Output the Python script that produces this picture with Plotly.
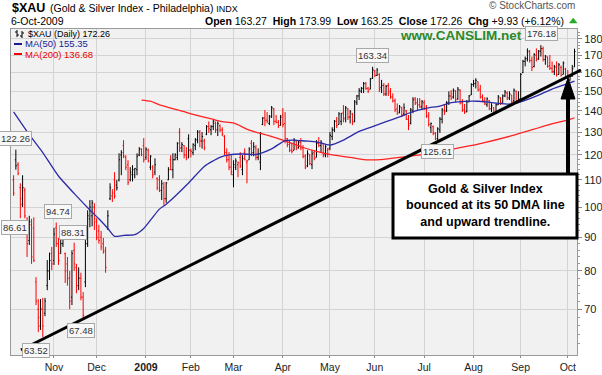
import math
import pandas as pd
import plotly.graph_objects as go

# ---------------- data ----------------
HOLIDAYS = ["2008-11-27", "2008-12-25", "2009-01-01", "2009-01-19", "2009-02-16",
            "2009-04-10", "2009-05-25", "2009-07-03", "2009-09-07"]
dates = [d.strftime("%Y-%m-%d") for d in pd.bdate_range("2008-10-08", "2009-10-06")
         if d.strftime("%Y-%m-%d") not in HOLIDAYS]

opens = [110,118,116,107,101,106,95,89,94,93,
         77,70,66,70,69,76,80,85,83,93,
         88,85,88,85,82,78,73,86,81,76,
         78,73,77,88,96,97,100,95,92,90,
         88,86,93,103,104,110,108,110,120,124,
         119,116,110,112,112,114,120,122.5,124,119,
         122,115,115,113,110.5,110,106,107,103,110,
         118,114,118,119,130,123,124,120,127,122,
         121,124,126.5,130,126,126,129,132.5,131,132.5,
         134,131,133,131,128,121,118,115,112,115,
         116,119,114,121,117,118,125,121,123,119,
         117,133.5,136.5,135.5,134,137,141,135,134.5,133,
         138,134,127,124.5,122,122,126,123,125.5,123,
         119.5,115.5,120,116,121,119,125,124,125,120,
         122,123,128,131,135,133.5,135,139,136.5,141,
         137,138.5,135,144,147.5,150,151.5,154,151.5,151,
         157,161,158.5,159,152,153,148.5,153,150,147,
         145,141,139,141.5,138.5,140,136,134,140,146,
         144,143,142,144,141,137.5,132,132.5,129.5,127,
         131,136,140,140,144,147.5,147,150,146,150.5,
         144,140.5,139.5,144.5,148,153.5,154,155,151,147,
         145,143,145,141,141.5,139,143,146.5,144,147.5,
         149,146.5,148,145,150,145,145,160,166.5,168,
         172,167,163.5,170,168,172.5,174,167.5,169,164,
         162.5,160.5,163,159,163,159,162,157.5,156,158,
         163.27]
highs = [111.8,122.26,117.0,108.7,111.8,107.0,96.5,97.0,96.0,96.5,
         78.3,72.5,72.5,72.8,72.8,83.1,85.3,87.0,93.0,94.74,
         89.8,89.8,90.7,85.3,84.0,80.0,86.0,88.31,82.0,81.0,
         79.5,74.3,89.8,98.9,102.5,102.5,101.4,96.2,94.0,92.0,
         89.8,87.0,98.9,108.7,106.5,113.0,110.0,120.7,122.0,126.4,
         119.9,117.8,115.0,115.8,114.6,120.7,123.3,122.8,127.3,123.3,
         122.7,119.9,115.8,118.6,111.0,111.8,109.9,109.2,109.2,115.0,
         119.9,120.7,120.7,125.5,131.8,125.5,124.2,123.3,129.0,122.7,
         125.0,127.3,130.9,130.9,130.0,127.0,133.2,134.9,133.2,135.6,
         134.9,134.9,133.5,132.2,128.6,122.8,121.2,119.9,117.8,118.6,
         117.3,121.2,119.9,122.8,118.0,123.3,126.4,125.5,124.2,122.8,
         130.0,137.0,140.4,139.4,138.0,142.4,141.4,138.0,135.6,138.0,
         141.4,139.4,127.3,126.4,125.0,127.3,126.4,126.4,127.3,124.2,
         120.3,122.0,120.3,122.0,122.0,126.4,127.7,126.4,125.0,124.2,
         123.0,130.0,132.2,135.6,137.0,139.4,138.9,142.9,142.4,141.4,
         140.4,139.0,145.4,148.0,151.6,152.2,154.9,154.9,152.2,157.1,
         163.34,161.5,162.6,159.7,156.0,154.3,153.3,154.3,151.6,148.9,
         146.2,143.7,142.9,142.0,143.7,140.5,138.0,141.4,146.9,146.9,
         146.4,146.4,145.4,145.4,142.9,139.4,134.4,133.0,130.0,132.2,
         137.0,141.4,142.9,144.9,149.9,150.6,151.4,150.5,152.2,151.0,
         145.9,143.4,145.4,148.0,154.2,156.0,156.9,155.1,153.3,148.3,
         146.8,146.8,145.4,143.8,141.9,143.8,148.0,146.8,148.3,150.6,
         149.9,149.9,148.0,151.4,150.3,149.9,159.8,167.3,169.3,174.2,
         173.2,169.3,171.3,174.2,173.2,176.18,175.3,170.2,169.3,170.2,
         166.4,164.4,166.4,165.5,164.0,166.4,162.7,161.5,158.7,164.4,
         173.99]
lows = [104.0,114.0,111.8,96.2,100.0,96.2,84.0,87.6,82.0,82.5,
        71.0,64.6,65.1,63.52,68.3,74.8,77.5,80.2,81.7,87.0,
        81.7,85.0,87.0,76.7,76.0,70.0,71.0,80.0,74.0,74.8,
        72.2,67.48,75.6,87.0,93.2,93.5,92.3,89.1,88.0,86.0,
        85.0,79.5,92.3,102.5,101.8,103.0,106.0,109.4,111.8,118.7,
        113.8,108.0,109.4,109.4,110.6,111.8,119.5,119.5,116.9,118.0,
        116.9,113.8,110.6,111.8,106.1,105.4,102.5,100.7,101.5,109.9,
        113.8,110.6,117.8,117.8,121.2,121.2,118.6,117.8,118.6,119.0,
        119.9,122.0,125.0,123.3,122.7,122.0,128.6,129.6,128.6,130.9,
        129.6,128.2,130.0,128.2,120.0,116.9,113.8,111.8,107.2,113.8,
        111.0,114.6,111.8,117.8,108.7,118.0,119.5,119.5,117.8,117.8,
        113.8,133.2,132.7,134.0,133.2,136.6,133.2,134.0,131.8,133.0,
        132.2,125.0,123.3,121.2,120.7,122.0,122.0,122.7,122.0,118.6,
        114.2,115.0,115.8,114.2,117.8,119.0,123.3,121.2,119.0,119.0,
        119.0,122.0,126.4,130.0,131.8,133.5,133.2,134.5,134.5,135.6,
        134.0,133.2,134.5,142.9,145.4,149.0,149.0,150.6,149.0,151.0,
        156.5,157.6,158.2,149.5,149.0,147.5,147.5,147.5,146.0,144.2,
        139.4,138.0,138.9,137.0,137.5,135.6,130.9,133.5,138.9,142.9,
        140.4,141.4,140.4,140.4,136.6,132.5,129.6,128.6,126.4,125.61,
        129.6,134.0,138.0,139.5,142.9,145.4,146.1,144.2,145.5,143.2,
        139.5,138.5,139.4,144.3,148.0,152.3,151.4,149.9,146.1,144.3,
        142.9,142.0,140.4,139.4,138.0,138.5,142.9,142.9,144.0,146.9,
        145.4,145.4,143.8,144.3,144.3,144.3,144.9,159.8,163.6,166.4,
        165.7,160.9,163.0,166.4,167.3,169.3,166.4,164.5,162.8,161.5,
        159.8,158.7,157.8,159.0,157.8,159.0,156.9,155.2,155.5,157.8,
        163.25]
closes = [105.0,115.5,112.5,103.0,107.0,97.0,88.0,95.0,84.0,83.0,
          72.0,68.0,70.0,66.0,72.0,80.0,83.0,82.0,91.0,88.0,
          83.0,88.0,90.0,80.0,78.0,72.0,85.0,82.0,76.0,78.0,
          73.0,68.5,88.0,97.0,100.0,101.5,96.0,90.0,89.0,87.0,
          85.5,81.0,97.0,107.0,105.0,104.0,107.0,118.0,121.0,119.5,
          115.0,109.0,113.0,114.0,114.5,119.5,122.5,120.0,118.0,122.5,
          117.5,119.5,112.0,116.0,107.0,106.0,108.5,103.0,108.8,114.0,
          113.9,118.0,120.0,125.0,123.0,124.5,120.0,119.0,122.0,121.5,
          124.5,126.5,130.0,126.0,128.0,123.0,132.5,131.5,132.5,135.0,
          131.0,134.0,131.0,129.0,121.0,118.0,115.0,113.0,116.0,117.5,
          116.8,115.5,118.5,118.0,117.5,122.5,121.0,123.5,119.0,120.5,
          129.5,136.5,135.5,135.0,137.5,141.5,135.0,134.5,133.0,137.0,
          133.5,127.0,124.5,122.0,121.5,126.5,123.0,125.5,123.0,119.5,
          115.0,120.5,116.5,120.5,118.5,125.0,124.0,125.5,120.0,123.5,
          122.5,128.5,131.0,135.0,133.0,138.5,138.8,136.0,141.5,137.0,
          139.5,134.5,144.5,147.5,150.5,151.5,154.0,151.5,150.0,156.5,
          161.5,158.5,161.5,151.0,153.0,148.5,152.5,149.0,147.0,145.0,
          140.5,139.5,142.0,138.0,141.5,136.0,133.0,140.5,145.5,144.0,
          143.0,142.0,144.5,141.0,137.5,133.5,134.0,129.5,127.0,131.5,
          136.0,140.5,139.5,144.0,147.5,146.5,150.5,145.5,151.0,144.0,
          140.5,139.5,144.5,147.5,153.5,154.0,155.8,150.5,147.0,145.0,
          143.5,146.0,141.0,142.5,138.5,143.0,147.0,144.0,147.5,149.5,
          146.5,148.5,144.5,150.5,145.0,146.0,159.0,166.5,168.0,172.5,
          167.0,163.0,170.5,167.5,172.5,174.0,167.5,169.5,163.5,162.5,
          160.5,163.5,159.0,164.5,158.5,165.5,157.5,156.0,158.0,162.33,
          172.26]

# moving averages (bar index -> value)
ma50_idx = [0, 7, 13, 20, 28, 34, 38, 42, 45, 49, 54, 58, 62, 65, 68, 78, 85, 92, 96, 102,
            108, 115, 121, 125, 130, 135, 141, 147, 154, 160, 166, 172, 178, 184, 190, 194,
            198, 207, 214, 222, 226, 234, 240, 246, 250]
ma50_val = [139.5, 128.8, 121.0, 111.5, 104.0, 99.0, 96.0, 92.8, 90.3, 90.6, 90.8, 92.8, 96.5,
            99.3, 101.0, 108.8, 115.3, 119.0, 120.0, 120.4, 120.2, 122.6, 126.2, 126.4, 126.0,
            125.6, 124.2, 126.4, 130.3, 132.5, 134.8, 137.1, 139.6, 141.3, 142.4, 143.8, 144.5,
            144.8, 144.0, 143.4, 144.5, 147.9, 151.1, 153.6, 155.35]
ma200_idx = [57, 61, 65, 76, 78, 90, 93, 98, 105, 113, 120, 128, 135, 142, 150, 157, 165, 172,
             180, 187, 193, 208, 223, 238, 248, 250]
ma200_val = [145.4, 144.8, 143.0, 139.6, 138.9, 135.6, 134.8, 134.2, 130.9, 128.6, 126.4, 123.5,
             121.5, 120.0, 119.0, 118.0, 118.2, 119.0, 119.9, 120.8, 122.0, 124.9, 128.6, 133.2,
             135.9, 136.68]

month_ticks = ["2008-11-03", "2008-12-01", "2009-01-02", "2009-02-02", "2009-03-02", "2009-04-01",
               "2009-05-01", "2009-06-01", "2009-07-01", "2009-08-03", "2009-09-01", "2009-10-01"]
month_text = ["Nov", "Dec", "<b>2009</b>", "Feb", "Mar", "Apr", "May", "Jun", "Jul", "Aug", "Sep", "Oct"]
price_ticks = [70, 80, 90, 100, 110, 120, 130, 140, 150, 160, 170, 180]

# labelled extremes: (bar index, value, x shift, y shift)
marks = [(1, 122.26, 0, 11), (19, 94.74, 2, 11), (27, 88.31, -1, 10), (31, 67.48, -2, -11),
         (13, 63.52, -7, -14), (160, 163.34, 0, 11), (189, 125.61, 0, -10), (235, 176.18, 1, 12),
         (0, 86.61, 1, 21)]

assert len(dates) == len(opens) == len(highs) == len(lows) == len(closes)
n = len(dates)

# ---------------- figure ----------------
FONT = "Liberation Sans"
L, R, T, B = 11, 577, 29, 355
def px(x):
    return (x - L) / (R - L)
def py(y):
    return (B - y) / (B - T)

up = [i for i in range(n) if closes[i] >= (closes[i - 1] if i > 0 else opens[i])]
dn = [i for i in range(n) if i not in set(up)]

fig = go.Figure()
for idx, col in ((up, "#000000"), (dn, "#ff0000")):
    fig.add_trace(go.Ohlc(
        x=[dates[i] for i in idx], open=[opens[i] for i in idx], high=[highs[i] for i in idx],
        low=[lows[i] for i in idx], close=[closes[i] for i in idx],
        increasing=dict(line=dict(color=col, width=1)),
        decreasing=dict(line=dict(color=col, width=1)),
        tickwidth=0.45, hoverinfo="skip", showlegend=False))

fig.add_trace(go.Scatter(x=[dates[i] for i in ma200_idx], y=ma200_val, mode="lines",
                         line=dict(color="#ff2222", width=1.3, shape="spline", smoothing=0.6),
                         hoverinfo="skip", showlegend=False))
fig.add_trace(go.Scatter(x=[dates[i] for i in ma50_idx], y=ma50_val, mode="lines",
                         line=dict(color="#2b2ba8", width=1.3, shape="spline", smoothing=0.6),
                         hoverinfo="skip", showlegend=False))

grid = "#d4d4d4"
fig.update_layout(
    width=602, height=375, margin=dict(l=L, r=602 - R, t=T, b=375 - B),
    paper_bgcolor="white", plot_bgcolor="#f1f1f1", showlegend=False,
    font=dict(family=FONT, size=11, color="#222"),
    xaxis=dict(type="category", categoryorder="array", categoryarray=dates,
               range=[-1.16, 251.1], tickmode="array", tickvals=month_ticks, ticktext=month_text,
               showgrid=True, gridcolor=grid, gridwidth=1, ticks="outside", ticklen=2,
               tickcolor="#888", showline=True, linecolor="#999", mirror=True,
               rangeslider=dict(visible=False), tickfont=dict(family=FONT, size=10.5, color="#222"),
               fixedrange=True, automargin=False),
    yaxis=dict(type="log", side="right", range=[math.log10(59.63), math.log10(186.4)],
               tickmode="array", tickvals=price_ticks, ticktext=[str(v) for v in price_ticks],
               showgrid=True, gridcolor=grid, gridwidth=1, ticks="outside", ticklen=4,
               tickcolor="#888", showline=True, linecolor="#999", mirror=True, zeroline=False,
               tickfont=dict(family=FONT, size=11, color="#222"),
               minor=dict(tickvals=[v for v in range(62, 186, 2) if v % 10], ticklen=2,
                          tickcolor="#999", ticks="outside", showgrid=False),
               fixedrange=True, automargin=False),
)

ann = []
# header
ann.append(dict(x=px(10), y=py(8), xref="paper", yref="paper", xanchor="left", yanchor="middle",
                text="<b>$XAU</b>", showarrow=False, font=dict(family=FONT, size=12.5, color="#000")))
ann.append(dict(x=px(48), y=py(8), xref="paper", yref="paper", xanchor="left", yanchor="middle",
                text="(Gold & Silver Index - Philadelphia) <span style='font-size:9px'>INDX</span>",
                showarrow=False, font=dict(family=FONT, size=10.5, color="#000")))
ann.append(dict(x=px(9), y=py(21), xref="paper", yref="paper", xanchor="left", yanchor="middle",
                text="6-Oct-2009", showarrow=False, font=dict(family=FONT, size=10.5, color="#000")))
ann.append(dict(x=px(566), y=py(21), xref="paper", yref="paper", xanchor="right", yanchor="middle",
                text="<b>Open</b> 163.27  <b>High</b> 173.99  <b>Low</b> 163.25  <b>Close</b> 172.26  "
                     "<b>Chg</b> +9.93 (+6.12%)",
                showarrow=False, font=dict(family=FONT, size=10.5, color="#000")))
ann.append(dict(x=px(577), y=py(6), xref="paper", yref="paper", xanchor="right", yanchor="middle",
                text="© StockCharts.com", showarrow=False, font=dict(family=FONT, size=10, color="#555")))
# in-plot legend
ann.append(dict(x=px(26), y=py(34), xref="paper", yref="paper", xanchor="left", yanchor="middle",
                text="$XAU (Daily) 172.26", showarrow=False, font=dict(family=FONT, size=9, color="#000")))
ann.append(dict(x=px(23), y=py(44), xref="paper", yref="paper", xanchor="left", yanchor="middle",
                text="MA(50) 155.35", showarrow=False, font=dict(family=FONT, size=9.5, color="#1a1a90")))
ann.append(dict(x=px(23), y=py(54), xref="paper", yref="paper", xanchor="left", yanchor="middle",
                text="MA(200) 136.68", showarrow=False, font=dict(family=FONT, size=9.5, color="#ee0000")))
# watermark
ann.append(dict(x=px(461), y=py(35), xref="paper", yref="paper", xanchor="center", yanchor="middle",
                text="<b>www.CANSLIM.net</b>", showarrow=False,
                font=dict(family=FONT, size=13.5, color="#2a8a2a")))
# comment box text
ann.append(dict(x=px(485), y=py(205), xref="paper", yref="paper", xanchor="center", yanchor="middle",
                text="<b>Gold & Silver Index<br>bounced at its 50 DMA line<br>and upward trendline.</b>",
                showarrow=False, font=dict(family=FONT, size=12.5, color="#000")))
# value labels
for i, v, xs, ys in marks:
    ann.append(dict(x=dates[i], y=math.log10(v), xref="x", yref="y", text=f"{v:.2f}",
                    showarrow=False, xshift=xs, yshift=ys, xanchor="center", yanchor="middle",
                    font=dict(family=FONT, size=9.5, color="#333"), bgcolor="#f8f8f8",
                    bordercolor="#a8a8a8", borderwidth=1, borderpad=1))

shapes = []
# green up-triangle after the change figure
shapes.append(dict(type="path", xref="paper", yref="paper",
                   path=f"M {px(569.5)},{py(23)} L {px(577)},{py(23)} L {px(573.2)},{py(18)} Z",
                   fillcolor="#22aa22", line=dict(color="#22aa22", width=0.5)))
# legend glyphs
shapes.append(dict(type="line", xref="paper", yref="paper", x0=px(14), x1=px(22), y0=py(44), y1=py(44),
                   line=dict(color="#1a1a90", width=2)))
shapes.append(dict(type="line", xref="paper", yref="paper", x0=px(14), x1=px(22), y0=py(54), y1=py(54),
                   line=dict(color="#ee0000", width=2)))
for gx, ya, yb, tl, tr in ((17, 30, 37, 32, 35), (22, 31, 38, 36, 33)):
    shapes.append(dict(type="line", xref="paper", yref="paper", x0=px(gx), x1=px(gx), y0=py(ya), y1=py(yb),
                       line=dict(color="#000", width=1)))
    shapes.append(dict(type="line", xref="paper", yref="paper", x0=px(gx - 2), x1=px(gx), y0=py(tl), y1=py(tl),
                       line=dict(color="#000", width=1)))
    shapes.append(dict(type="line", xref="paper", yref="paper", x0=px(gx), x1=px(gx + 2), y0=py(tr), y1=py(tr),
                       line=dict(color="#000", width=1)))
# trendline
shapes.append(dict(type="line", xref="paper", yref="paper", x0=px(21), y0=py(350), x1=px(581), y1=py(70),
                   line=dict(color="#000", width=3)))
# comment box
shapes.append(dict(type="rect", xref="paper", yref="paper", x0=px(393), y0=py(174), x1=px(577), y1=py(238),
                   line=dict(color="#000", width=3), fillcolor="white", layer="above"))
# arrow
shapes.append(dict(type="line", xref="paper", yref="paper", x0=px(568), x1=px(568), y0=py(174), y1=py(97),
                   line=dict(color="#000", width=4)))
shapes.append(dict(type="path", xref="paper", yref="paper",
                   path=f"M {px(561)},{py(99)} L {px(575)},{py(99)} L {px(568)},{py(78)} Z",
                   fillcolor="#000", line=dict(color="#000", width=1)))

fig.update_layout(annotations=ann, shapes=shapes)
fig.write_html("out.html", config={"displayModeBar": False, "staticPlot": True},
               post_script="document.body.style.margin='0px';document.body.style.overflow='hidden';")
